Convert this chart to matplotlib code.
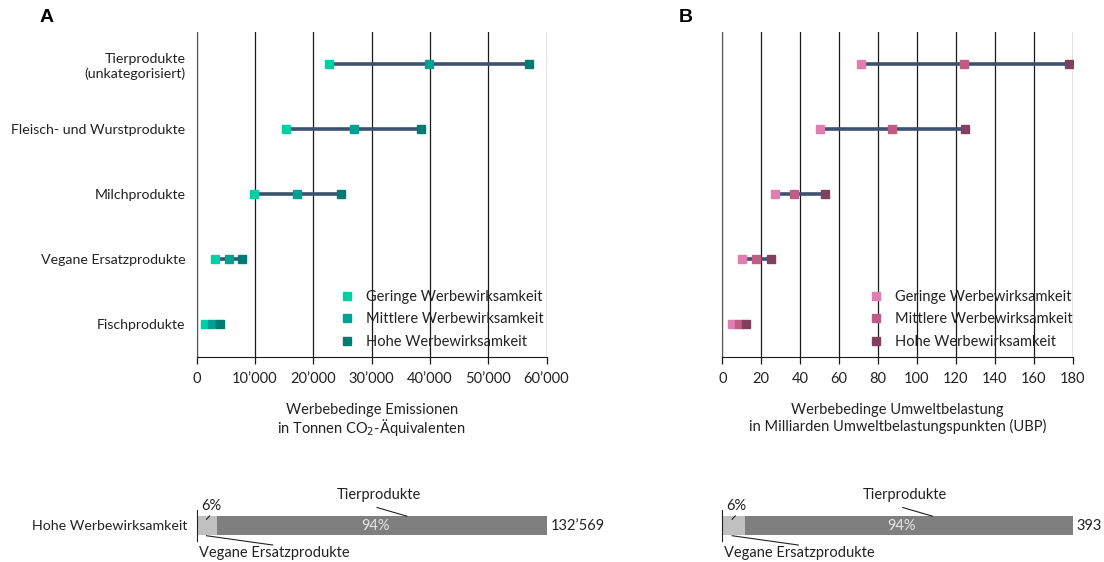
import numpy as np
import matplotlib
matplotlib.use("Agg")
import matplotlib.pyplot as plt
from matplotlib.ticker import FuncFormatter

plt.rcParams['font.family'] = ['Lato', 'DejaVu Sans']

# --- data ---
categories = ["Tierprodukte\n(unkategorisiert)", "Fleisch- und Wurstprodukte",
              "Milchprodukte", "Vegane Ersatzprodukte", "Fischprodukte"]
levels = ["Geringe Werbewirksamkeit", "Mittlere Werbewirksamkeit", "Hohe Werbewirksamkeit"]

co2_geringe = [22700, 15400, 9900, 3150, 1500]
co2_mittlere = [39900, 26900, 17200, 5500, 2700]
co2_hohe = [57000, 38500, 24700, 7850, 3950]
co2_total_hohe = 132569

ubp_geringe = [71, 50, 27, 10, 4.8]
ubp_mittlere = [124, 87, 37, 17.5, 8.4]
ubp_hohe = [178, 124.5, 53, 25, 12.3]
ubp_total_hohe = 393

vegan_idx = 3

colors_a = ["#00CFA6", "#00A092", "#007C72"]
colors_b = ["#E07DB2", "#BE5C86", "#82405F"]
line_col = "#3D5170"

W, H = 1104, 562
fig = plt.figure(figsize=(W / 100, H / 100), dpi=100)


def px_axes(x0, x1, y0, y1):
    return fig.add_axes([x0 / W, 1 - y1 / H, (x1 - x0) / W, (y1 - y0) / H])


def swiss(v, pos):
    return f"{int(v):,}".replace(",", "\u2019")


def dumbbell(ax, lo, mid, hi, cols, xmax, step, fmt, show_labels, leg_x):
    y = np.arange(len(categories))
    for i in y:
        ax.plot([lo[i], hi[i]], [i, i], color=line_col, lw=2.6, zorder=2,
                solid_capstyle='butt')
    for vals, c, lab in zip([lo, mid, hi], cols, levels):
        ax.plot(vals, y, ls='none', marker='s', ms=6, color=c, mec=c,
                zorder=3, label=lab)
    ax.set_xlim(0, xmax)
    ax.set_ylim(len(categories) - 0.5, -0.5)
    ax.set_xticks(np.arange(0, xmax + 1, step))
    ax.xaxis.set_major_formatter(FuncFormatter(fmt))
    ax.grid(axis='x', color='#1a1a1a', lw=0.9, zorder=0)
    ax.set_axisbelow(True)
    for s in ['top', 'right']:
        ax.spines[s].set_visible(False)
    ax.spines['left'].set_color('#555555')
    ax.spines['bottom'].set_color('#1a1a1a')
    ax.tick_params(axis='x', length=5, width=0.9, color='#1a1a1a',
                   labelsize=10.5, pad=6, labelcolor='#222222')
    ax.set_yticks(y)
    if show_labels:
        ax.set_yticklabels(categories, fontsize=10.2, color='#222222')
    else:
        ax.set_yticklabels([])
    ax.tick_params(axis='y', length=0, pad=8)
    leg = ax.legend(loc='upper left', bbox_to_anchor=(leg_x, 0.242), frameon=False,
                    fontsize=10.5, handlelength=0.8, handletextpad=0.9,
                    labelspacing=0.6, borderpad=0.3)
    for t in leg.get_texts():
        t.set_color('#222222')


ax_a = px_axes(196.7, 546.5, 31.7, 356.7)
dumbbell(ax_a, co2_geringe, co2_mittlere, co2_hohe, colors_a, 60000, 10000, swiss,
         True, 0.381)
ax_a.set_xlabel("Werbebedinge Emissionen\nin Tonnen CO$_2$-\u00c4quivalenten",
                fontsize=10.5, labelpad=12, color='#222222', linespacing=1.05)

ax_b = px_axes(722.3, 1072.7, 31.7, 356.7)
dumbbell(ax_b, ubp_geringe, ubp_mittlere, ubp_hohe, colors_b, 180, 20,
         lambda v, p: f"{int(v)}", False, 0.39)
ax_b.set_xlabel("Werbebedinge Umweltbelastung\nin Milliarden Umweltbelastungspunkten (UBP)",
                fontsize=10.5, labelpad=12, color='#222222', linespacing=1.2)

fig.text(40 / W, 1 - 18 / H, "A", fontsize=14, fontweight='bold',
         family='Liberation Sans', va='center')
fig.text(679 / W, 1 - 18 / H, "B", fontsize=14, fontweight='bold',
         family='Liberation Sans', va='center')


def share_bar(ax, total, vegan, total_label, show_label):
    tier = total - vegan
    ax.barh(0, vegan, height=0.59, color='#C0C0C0', left=0)
    ax.barh(0, tier, height=0.59, color='#7F7F7F', left=vegan)
    ax.set_xlim(0, total)
    ax.set_ylim(-0.5, 0.5)
    for s in ['top', 'right', 'bottom']:
        ax.spines[s].set_visible(False)
    ax.spines['left'].set_color('#222222')
    ax.set_xticks([])
    ax.set_yticks([0])
    ax.set_yticklabels(["Hohe Werbewirksamkeit"] if show_label else [""],
                       fontsize=10.2, color='#222222')
    ax.tick_params(axis='y', length=0, pad=7)
    tr = ax.get_xaxis_transform()
    pv = round(100 * vegan / total)
    pt = 100 - pv
    ax.text(vegan + tier / 2 - 0.02 * total, 0, f"{pt}%", ha='center', va='center',
            color='#E6E6E6', fontsize=10.5)
    ax.text(total * 1.012, 0, total_label, ha='left', va='center',
            color='#222222', fontsize=10.5)
    ax.text(0.041 * total, 1.13, f"{pv}%", transform=tr, ha='center', va='center',
            color='#222222', fontsize=10.5, clip_on=False)
    ax.plot([0.028 * total, 0.037 * total], [0.70, 0.81], transform=tr,
            color='#222222', lw=0.8, clip_on=False)
    ax.text(0.52 * total, 1.5, "Tierprodukte", transform=tr, ha='center',
            va='center', color='#222222', fontsize=10.5, clip_on=False)
    ax.plot([0.515 * total, 0.60 * total], [1.08, 0.8], transform=tr,
            color='#222222', lw=0.8, clip_on=False)
    ax.text(0.006 * total, -0.39, "Vegane Ersatzprodukte", transform=tr, ha='left',
            va='center', color='#222222', fontsize=10.5, clip_on=False)
    ax.plot([0.028 * total, 0.217 * total], [0.17, -0.13], transform=tr,
            color='#222222', lw=0.8, clip_on=False)


bar_a = px_axes(196.7, 547, 510, 541)
share_bar(bar_a, co2_total_hohe, co2_hohe[vegan_idx], swiss(co2_total_hohe, None), True)
bar_b = px_axes(722.3, 1072.7, 510, 541)
share_bar(bar_b, ubp_total_hohe, ubp_hohe[vegan_idx], str(ubp_total_hohe), False)

fig.savefig("out.png", dpi=100)
